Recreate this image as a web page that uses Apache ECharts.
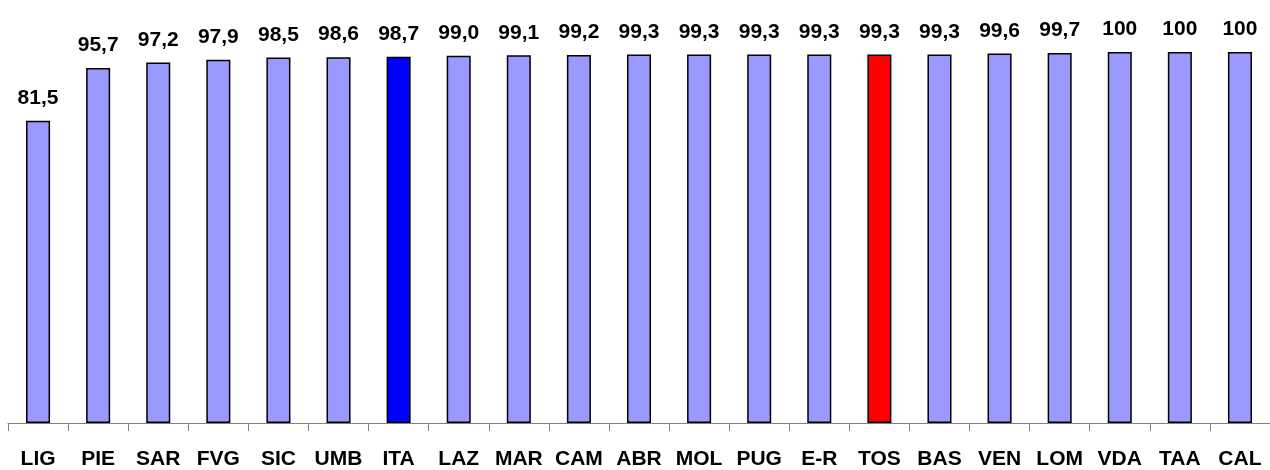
<!DOCTYPE html>
<html>
<head>
<meta charset="utf-8">
<script src="https://cdn.jsdelivr.net/npm/echarts@6/dist/echarts.min.js"></script>
<style>
  html, body { margin: 0; padding: 0; background: #fff; }
  #bar { width: 1270px; height: 470px; }
</style>
</head>
<body>
<div id="bar"></div>
<script>
const regions = ['LIG', 'PIE', 'SAR', 'FVG', 'SIC', 'UMB', 'ITA', 'LAZ', 'MAR', 'CAM', 'ABR',
  'MOL', 'PUG', 'E-R', 'TOS', 'BAS', 'VEN', 'LOM', 'VDA', 'TAA', 'CAL'];
const values = [81.5, 95.7, 97.2, 97.9, 98.5, 98.6, 98.7, 99.0, 99.1, 99.2, 99.3,
  99.3, 99.3, 99.3, 99.3, 99.3, 99.6, 99.7, 100, 100, 100];
const highlight = { 'ITA': '#0000ff', 'TOS': '#ff0000' };

// formato italiano: virgola decimale, 100 senza decimali
function fmt(v) {
  return v === 100 ? '100' : v.toFixed(1).replace('.', ',');
}

let bar = echarts.init(document.getElementById('bar'));
let bar_option = {
  backgroundColor: '#fff',
  animation: false,
  grid: { left: 8, right: -8, top: 52, bottom: 46 },
  xAxis: {
    type: 'category',
    data: regions,
    boundaryGap: true,
    axisLine: { lineStyle: { color: '#808080', width: 1 } },
    axisTick: { show: true, interval: 0, length: 8, lineStyle: { color: '#808080', width: 1 } },
    axisLabel: {
      interval: 0,
      margin: 26,
      color: '#000',
      fontFamily: 'Liberation Sans, Arial, sans-serif',
      fontWeight: 'bold',
      fontSize: 21
    }
  },
  yAxis: {
    type: 'value',
    min: 0,
    max: 100,
    show: false,
    splitLine: { show: false }
  },
  series: [
    {
      type: 'bar',
      barWidth: '40%',
      data: values.map((v, i) => ({
        value: v,
        itemStyle: { color: highlight[regions[i]] || '#9999ff' }
      })),
      itemStyle: { borderColor: '#000', borderWidth: 1.5 },
      label: {
        show: true,
        position: 'top',
        distance: 12,
        color: '#000',
        fontFamily: 'Liberation Sans, Arial, sans-serif',
        fontWeight: 'bold',
        fontSize: 21,
        formatter: p => fmt(p.value)
      }
    }
  ]
};
bar.setOption(bar_option);
</script>
</body>
</html>
